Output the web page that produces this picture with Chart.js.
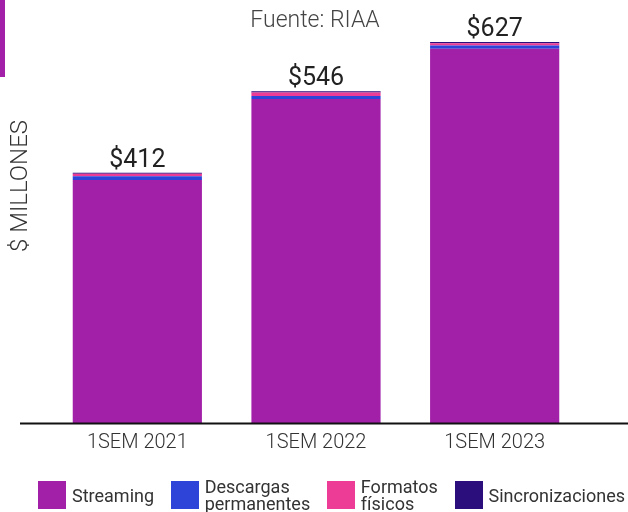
<!DOCTYPE html>
<html><head><meta charset="utf-8">
<script src="https://cdn.jsdelivr.net/npm/chart.js@4/dist/chart.umd.min.js"></script>
<style>
html,body{margin:0;padding:0;background:#fff;}
#wrap{position:relative;width:628px;height:512px;overflow:hidden;font-family:Roboto,"Noto Sans",sans-serif;}
#strip{position:absolute;left:0;top:0;width:5px;height:77px;background:#a21fa8;}
#legend{position:absolute;left:38px;right:3px;top:478px;display:flex;justify-content:space-between;align-items:center;}
.item{display:flex;align-items:center;}
.box{width:28px;height:28px;margin-right:6px;flex:none;}
.txt{font-size:18px;line-height:17px;color:#333;white-space:pre-line;font-weight:400;}
</style></head>
<body>
<div id="wrap">
<canvas id="c" width="628" height="512"></canvas>
<div id="strip"></div>
<div id="legend"></div>
</div>
<script>
const categories = ["1SEM 2021", "1SEM 2022", "1SEM 2023"];
const seriesNames = ["Streaming", "Descargas\npermanentes", "Formatos\nfísicos", "Sincronizaciones"];
const streaming = [400, 533, 616];
const descargas = [6, 5, 5];
const formatos = [4, 6, 4];
const sincronizaciones = [2, 2, 2];
const totals = [412, 546, 627];
const totalLabels = ["$412", "$546", "$627"];
const colors = ["#a21fa8", "#2e44d9", "#ec3c95", "#2b0e7c"];
const title = "Fuente: RIAA";
const yTitle = "$ MILLONES";

const seriesValues = [streaming, descargas, formatos, sincronizaciones];
const datasets = seriesNames.map((n, i) => ({
  label: n, data: seriesValues[i], backgroundColor: colors[i],
  borderWidth: 0, categoryPercentage: 1, barPercentage: 0.723
}));

const extras = {
  id: 'extras',
  afterDraw(chart) {
    const ctx = chart.ctx;
    const x = chart.scales.x, y = chart.scales.y;
    ctx.save();
    const y0 = y.getPixelForValue(0);
    ctx.strokeStyle = '#111';
    ctx.lineWidth = 2;
    ctx.beginPath(); ctx.moveTo(20, y0 + 0.5); ctx.lineTo(chart.width, y0 + 0.5); ctx.stroke();
    ctx.fillStyle = '#222';
    ctx.font = '400 25px Roboto';
    ctx.textAlign = 'center'; ctx.textBaseline = 'middle';
    totals.forEach((t, i) => {
      ctx.fillText(totalLabels[i], x.getPixelForValue(i), y.getPixelForValue(t) - 12);
    });
    ctx.fillStyle = '#444';
    ctx.font = '300 23px Roboto';
    ctx.fillText(title, 315, 21);
    ctx.translate(21, 186); ctx.rotate(-Math.PI / 2);
    ctx.fillStyle = '#333';
    ctx.font = '300 24px Roboto';
    ctx.fillText(yTitle, 0, 0);
    ctx.restore();
  }
};

new Chart(document.getElementById('c'), {
  type: 'bar',
  data: { labels: categories, datasets },
  options: {
    responsive: false, animation: false,
    layout: { padding: { left: 48, right: 44, top: 28, bottom: 57 } },
    plugins: { legend: { display: false }, tooltip: { enabled: false }, title: { display: false } },
    scales: {
      x: { stacked: true, grid: { display: false }, border: { display: false },
           ticks: { color: '#333', padding: 0, font: { family: 'Roboto', size: 20, weight: '300' } } },
      y: { stacked: true, display: false, min: 0, max: 650 }
    }
  },
  plugins: [extras]
});

const lg = document.getElementById('legend');
datasets.forEach(d => {
  const it = document.createElement('div'); it.className = 'item';
  const b = document.createElement('div'); b.className = 'box'; b.style.background = d.backgroundColor;
  const t = document.createElement('div'); t.className = 'txt'; t.textContent = d.label;
  it.appendChild(b); it.appendChild(t); lg.appendChild(it);
});
</script>
</body></html>
